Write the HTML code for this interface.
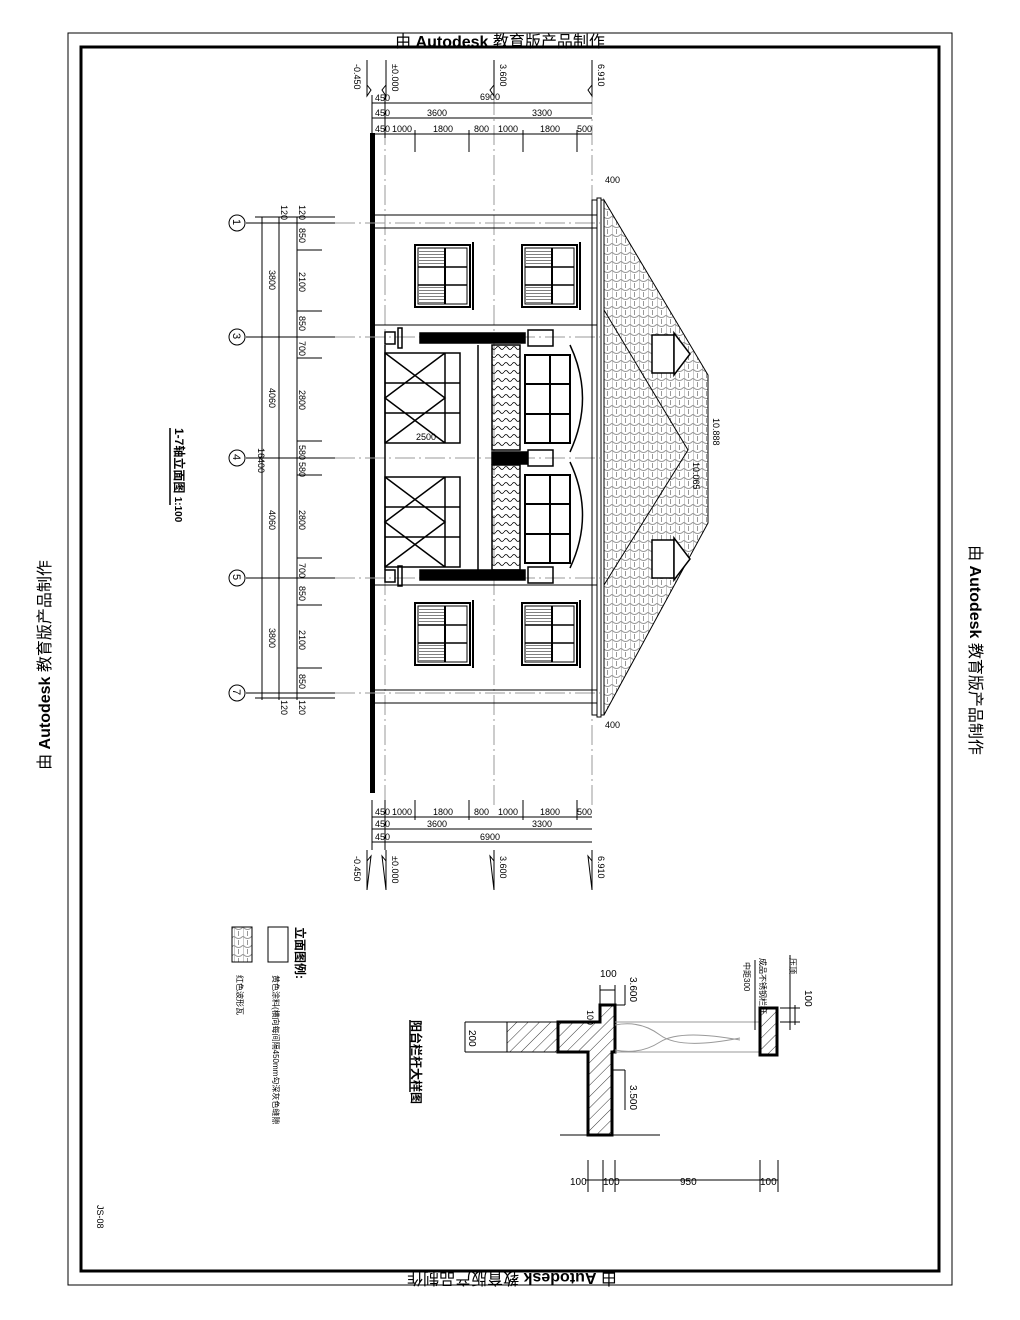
<!DOCTYPE html>
<html><head><meta charset="utf-8"><style>
html,body{margin:0;padding:0;background:#fff}
svg{display:block}
text{font-family:"Liberation Sans","Noto Sans CJK SC",sans-serif;fill:#000}
</style></head><body>
<svg width="1020" height="1320" viewBox="0 0 1020 1320" xmlns="http://www.w3.org/2000/svg">
<defs>
<pattern id="tile" width="9" height="9" patternUnits="userSpaceOnUse">
<path d="M0 0 Q4.5 5 9 0 M0 0 V9 M4.5 4 V9" fill="none" stroke="#999" stroke-width="1"/>
</pattern>
<pattern id="hatch" width="8" height="8" patternUnits="userSpaceOnUse" patternTransform="rotate(45)">
<line x1="0" y1="0" x2="0" y2="8" stroke="#000" stroke-width="0.8"/>
</pattern>
<pattern id="bal" width="8" height="8" patternUnits="userSpaceOnUse">
<path d="M0 4 Q2 1 4 4 T8 4" fill="none" stroke="#000" stroke-width="0.8"/>
</pattern>
<g id="win">
<rect x="0" y="0" width="55" height="62" fill="none" stroke="#000" stroke-width="2"/>
<rect x="3" y="3" width="49" height="56" fill="none" stroke="#000" stroke-width="1"/>
<line x1="30" y1="3" x2="30" y2="59" stroke="#000" stroke-width="2"/>
<line x1="3" y1="22" x2="52" y2="22" stroke="#000" stroke-width="1.5"/>
<line x1="3" y1="40" x2="52" y2="40" stroke="#000" stroke-width="1.5"/>
<rect x="4" y="4" width="25" height="17" fill="url(#bars)"/>
<rect x="4" y="41" width="25" height="17" fill="url(#bars)"/>
<line x1="58" y1="-3" x2="58" y2="65" stroke="#000" stroke-width="2"/>
</g>
<pattern id="bars" width="3" height="3" patternUnits="userSpaceOnUse"><line x1="0" y1="0" x2="3" y2="0" stroke="#000" stroke-width="1"/></pattern>
</defs>

<!-- borders -->
<rect x="68" y="33" width="884" height="1252" fill="none" stroke="#000" stroke-width="1"/>
<rect x="81" y="47" width="858" height="1224" fill="none" stroke="#000" stroke-width="3"/>

<!-- watermarks -->
<text x="500" y="47" font-size="16" text-anchor="middle" fill="#000">由 <tspan font-weight="bold">Autodesk</tspan> 教育版产品制作</text>
<text x="0" y="0" font-size="16" text-anchor="middle" transform="translate(512,1273) rotate(180)">由 <tspan font-weight="bold">Autodesk</tspan> 教育版产品制作</text>
<text x="0" y="0" font-size="16" text-anchor="middle" transform="translate(50,665) rotate(-90)">由 <tspan font-weight="bold">Autodesk</tspan> 教育版产品制作</text>
<text x="0" y="0" font-size="16" text-anchor="middle" transform="translate(970,650) rotate(90)">由 <tspan font-weight="bold">Autodesk</tspan> 教育版产品制作</text>

<g stroke="#000" fill="none" stroke-width="1">
<!-- ground line -->
<rect x="370" y="133" width="5" height="660" fill="#000" stroke="none"/>
<!-- grid lines vertical -->
<line x1="385" y1="95" x2="385" y2="805" stroke="#999" stroke-dasharray="20 4 2 4"/>
<line x1="494" y1="95" x2="494" y2="805" stroke="#999" stroke-dasharray="20 4 2 4"/>
<line x1="592" y1="95" x2="592" y2="805" stroke="#999" stroke-dasharray="20 4 2 4"/>
<!-- axis lines horizontal -->
<g stroke="#999" stroke-dasharray="20 4 2 4">
<line x1="335" y1="223" x2="600" y2="223"/><line x1="335" y1="337" x2="600" y2="337"/>
<line x1="335" y1="458" x2="600" y2="458"/><line x1="335" y1="578" x2="600" y2="578"/>
<line x1="335" y1="693" x2="600" y2="693"/>
</g>
<!-- top dims -->
<line x1="372" y1="103" x2="592" y2="103"/><line x1="372" y1="118" x2="592" y2="118"/><line x1="372" y1="134" x2="592" y2="134"/>
<line x1="372" y1="95" x2="372" y2="138"/><line x1="385" y1="95" x2="385" y2="138"/>
<line x1="415" y1="130" x2="415" y2="152"/><line x1="469" y1="130" x2="469" y2="152"/><line x1="523" y1="130" x2="523" y2="152"/><line x1="577" y1="130" x2="577" y2="152"/>
<!-- bottom dims -->
<line x1="372" y1="817" x2="592" y2="817"/><line x1="372" y1="829" x2="592" y2="829"/><line x1="372" y1="842" x2="592" y2="842"/>
<line x1="372" y1="800" x2="372" y2="850"/><line x1="385" y1="800" x2="385" y2="850"/>
<line x1="415" y1="800" x2="415" y2="820"/><line x1="469" y1="800" x2="469" y2="820"/><line x1="523" y1="800" x2="523" y2="820"/><line x1="577" y1="800" x2="577" y2="820"/>
<!-- elevation markers -->
<g>
<path d="M367 60 V96 L371 90 L367 85"/><path d="M386 60 V96 L382 90 L386 85"/><path d="M494 60 V96 L490 90 L494 85"/><path d="M592 60 V96 L588 90 L592 85"/>
<path d="M367 850 V890 L371 856 L367 861"/><path d="M386 850 V890 L382 856 L386 861"/><path d="M494 850 V890 L490 856 L494 861"/><path d="M592 850 V890 L588 856 L592 861"/>
</g>
<!-- left dims -->
<line x1="262" y1="217" x2="262" y2="700"/><line x1="279" y1="217" x2="279" y2="700"/><line x1="297" y1="217" x2="297" y2="700"/>
<line x1="255" y1="217" x2="335" y2="217"/><line x1="255" y1="698" x2="335" y2="698"/>
<line x1="246" y1="223" x2="335" y2="223"/><line x1="246" y1="337" x2="335" y2="337"/><line x1="246" y1="458" x2="335" y2="458"/><line x1="246" y1="578" x2="335" y2="578"/><line x1="246" y1="693" x2="335" y2="693"/>
<line x1="297" y1="250" x2="322" y2="250"/><line x1="297" y1="311" x2="322" y2="311"/><line x1="297" y1="358" x2="322" y2="358"/>
<line x1="297" y1="441" x2="322" y2="441"/><line x1="297" y1="475" x2="322" y2="475"/><line x1="297" y1="558" x2="322" y2="558"/>
<line x1="297" y1="605" x2="322" y2="605"/><line x1="297" y1="668" x2="322" y2="668"/>
<circle cx="237" cy="223" r="8"/><circle cx="237" cy="337" r="8"/><circle cx="237" cy="458" r="8"/><circle cx="237" cy="578" r="8"/><circle cx="237" cy="693" r="8"/>
<!-- facade -->
<line x1="375" y1="215" x2="597" y2="215"/><line x1="375" y1="228" x2="597" y2="228"/>
<line x1="375" y1="690" x2="597" y2="690"/><line x1="375" y1="703" x2="597" y2="703"/>
<line x1="375" y1="325" x2="597" y2="325"/><line x1="375" y1="585" x2="597" y2="585"/>
<rect x="592" y="200" width="5" height="515"/><rect x="597" y="198" width="4" height="519"/><rect x="601" y="200" width="3" height="515"/>
</g>
<!-- roof -->
<path d="M604 200 L708 375 L708 523 L604 715 Z" fill="url(#tile)" stroke="#000" stroke-width="1"/>
<path d="M604 310 L688 450 L604 585" fill="none" stroke="#000" stroke-width="1"/>
<g stroke="#000" fill="#fff" stroke-width="1.5">
<rect x="652" y="335" width="22" height="38"/><path d="M674 333 L690 354 L674 375 Z"/>
<rect x="652" y="540" width="22" height="38"/><path d="M674 538 L690 559 L674 580 Z"/>
</g>
<!-- windows -->
<use href="#win" x="415" y="245"/><use href="#win" x="522" y="245"/>
<use href="#win" x="415" y="603"/><use href="#win" x="522" y="603"/>
<g stroke="#000" fill="none" stroke-width="1.5">
<!-- balcony columns -->
<rect x="385" y="332" width="10" height="12"/><rect x="385" y="570" width="10" height="12"/>
<rect x="398" y="328" width="4" height="20"/><rect x="398" y="566" width="4" height="20"/>
<rect x="420" y="333" width="105" height="10" fill="#000"/><rect x="420" y="570" width="105" height="10" fill="#000"/>
<rect x="528" y="330" width="25" height="16"/><rect x="528" y="567" width="25" height="16"/>
<rect x="528" y="450" width="25" height="16"/>
<rect x="492" y="452" width="35" height="12" fill="#000"/>
<rect x="492" y="345" width="28" height="105" fill="url(#bal)"/><rect x="492" y="465" width="28" height="105" fill="url(#bal)"/>
<line x1="478" y1="345" x2="478" y2="570"/><line x1="385" y1="345" x2="385" y2="570"/>
<!-- glass doors -->
<g><rect x="385" y="353" width="75" height="90"/><path d="M385 353 L445 398 L385 443 M445 353 L385 398 L445 443 M385 383 H460 M385 413 H460 M445 353 V443"/></g>
<g><rect x="385" y="477" width="75" height="90"/><path d="M385 477 L445 522 L385 567 M445 477 L385 522 L445 567 M385 507 H460 M385 537 H460 M445 477 V567"/></g>
<!-- upper windows arched -->
<rect x="525" y="355" width="45" height="88" stroke-width="2"/><path d="M525 384 H570 M525 414 H570 M550 355 V443" stroke-width="2"/>
<rect x="525" y="475" width="45" height="88" stroke-width="2"/><path d="M525 504 H570 M525 534 H570 M550 475 V563" stroke-width="2"/>
<path d="M570 345 Q595 398 570 452"/><path d="M570 462 Q595 515 570 568"/>
</g>

<!-- labels -->
<g font-size="9">
<text x="375" y="101">450</text><text x="480" y="100">6900</text>
<text x="375" y="116">450</text><text x="427" y="116">3600</text><text x="532" y="116">3300</text>
<text x="375" y="132">450</text><text x="392" y="132">1000</text><text x="433" y="132">1800</text><text x="474" y="132">800</text><text x="498" y="132">1000</text><text x="540" y="132">1800</text><text x="577" y="132">500</text>
<text x="375" y="815">450</text><text x="392" y="815">1000</text><text x="433" y="815">1800</text><text x="474" y="815">800</text><text x="498" y="815">1000</text><text x="540" y="815">1800</text><text x="577" y="815">500</text>
<text x="375" y="827">450</text><text x="427" y="827">3600</text><text x="532" y="827">3300</text>
<text x="375" y="840">450</text><text x="480" y="840">6900</text>
<text x="605" y="183">400</text><text x="605" y="728">400</text>
<text x="416" y="440">2500</text>
</g>
<g font-size="9">
<text transform="translate(354,64) rotate(90)">-0.450</text><text transform="translate(392,64) rotate(90)">±0.000</text><text transform="translate(500,64) rotate(90)">3.600</text><text transform="translate(598,64) rotate(90)">6.910</text>
<text transform="translate(354,856) rotate(90)">-0.450</text><text transform="translate(392,856) rotate(90)">±0.000</text><text transform="translate(500,856) rotate(90)">3.600</text><text transform="translate(598,856) rotate(90)">6.910</text>
<text transform="translate(713,418) rotate(90)">10.888</text><text transform="translate(693,462) rotate(90)">10.065</text>
<text transform="translate(269,270) rotate(90)">3800</text><text transform="translate(269,388) rotate(90)">4060</text><text transform="translate(269,510) rotate(90)">4060</text><text transform="translate(269,628) rotate(90)">3800</text>
<text transform="translate(258,448) rotate(90)">16400</text>
<text transform="translate(299,228) rotate(90)">850</text><text transform="translate(299,272) rotate(90)">2100</text><text transform="translate(299,316) rotate(90)">850</text><text transform="translate(299,341) rotate(90)">700</text>
<text transform="translate(299,390) rotate(90)">2800</text><text transform="translate(299,445) rotate(90)">580</text><text transform="translate(299,462) rotate(90)">580</text>
<text transform="translate(299,510) rotate(90)">2800</text><text transform="translate(299,563) rotate(90)">700</text><text transform="translate(299,586) rotate(90)">850</text><text transform="translate(299,630) rotate(90)">2100</text><text transform="translate(299,674) rotate(90)">850</text>
<text transform="translate(281,205) rotate(90)">120</text><text transform="translate(299,205) rotate(90)">120</text>
<text transform="translate(281,700) rotate(90)">120</text><text transform="translate(299,700) rotate(90)">120</text>
</g>
<g font-size="11">
<text transform="translate(233,219) rotate(90)">1</text><text transform="translate(233,333) rotate(90)">3</text><text transform="translate(233,454) rotate(90)">4</text><text transform="translate(233,574) rotate(90)">5</text><text transform="translate(233,689) rotate(90)">7</text>
</g>
<text transform="translate(175,428) rotate(90)" font-size="12" font-weight="bold">1-7轴立面图 <tspan font-size="10">1:100</tspan></text>
<line x1="170" y1="428" x2="170" y2="505" stroke="#000" stroke-width="1.5"/>

<!-- balcony detail -->
<g stroke="#000" stroke-width="1">
<rect x="507" y="1022" width="51" height="30" fill="url(#hatch)"/>
<path d="M558 1022 H600 V1005 H615 V1052 H612 V1135 H588 V1052 H558 Z" fill="url(#hatch)" stroke-width="3"/>
<path d="M615 1022 H760 M615 1052 H760" stroke="#999"/>
<path d="M615 1025 Q640 1020 660 1035 T740 1038" fill="none" stroke="#999"/>
<path d="M615 1050 Q640 1055 660 1042 T740 1040" fill="none" stroke="#999"/>
<rect x="760" y="1008" width="17" height="47" fill="url(#hatch)" stroke-width="3"/>
<line x1="560" y1="1135" x2="660" y2="1135"/>
<line x1="465" y1="1022" x2="507" y2="1022"/><line x1="465" y1="1052" x2="507" y2="1052"/><line x1="465" y1="1022" x2="465" y2="1052"/>
<line x1="585" y1="1180" x2="778" y2="1180"/>
<line x1="588" y1="1160" x2="588" y2="1192"/><line x1="603" y1="1160" x2="603" y2="1192"/><line x1="615" y1="1160" x2="615" y2="1192"/><line x1="760" y1="1160" x2="760" y2="1192"/><line x1="778" y1="1160" x2="778" y2="1192"/>
<line x1="600" y1="985" x2="600" y2="1005"/><line x1="615" y1="985" x2="615" y2="1005"/>
<line x1="600" y1="990" x2="615" y2="990"/>
<line x1="780" y1="1008" x2="800" y2="1008"/><line x1="780" y1="1022" x2="800" y2="1022"/><line x1="795" y1="1005" x2="795" y2="1025"/>
<line x1="755" y1="960" x2="755" y2="1030"/><line x1="790" y1="955" x2="790" y2="1030"/>
<line x1="615" y1="1005" x2="625" y2="1005"/><line x1="625" y1="985" x2="625" y2="1005"/>
<line x1="612" y1="1070" x2="625" y2="1070"/><line x1="625" y1="1070" x2="625" y2="1110"/>
</g>
<g font-size="10">
<text x="570" y="1185">100</text><text x="603" y="1185">100</text><text x="680" y="1185">950</text><text x="760" y="1185">100</text>
<text x="600" y="977">100</text>
<text transform="translate(469,1030) rotate(90)">200</text>
<text transform="translate(630,977) rotate(90)">3.600</text>
<text transform="translate(630,1085) rotate(90)">3.500</text>
<text transform="translate(587,1010) rotate(90)" font-size="9">100</text>
<text transform="translate(805,990) rotate(90)">100</text>
</g>
<g font-size="8">
<text transform="translate(760,958) rotate(90)">成品不锈钢栏杆</text>
<text transform="translate(744,962) rotate(90)">中距300</text>
<text transform="translate(790,958) rotate(90)">压顶</text>
</g>
<text transform="translate(412,1020) rotate(90)" font-size="12" font-weight="bold">阳台栏杆大样图</text>
<line x1="410" y1="1020" x2="410" y2="1092" stroke="#000" stroke-width="1.5"/>

<!-- legend -->
<rect x="268" y="927" width="20" height="35" fill="none" stroke="#000"/>
<rect x="232" y="927" width="20" height="35" fill="url(#tile)" stroke="#000"/>
<text transform="translate(296,927) rotate(90)" font-size="12" font-weight="bold">立面图例:</text>
<text transform="translate(273,975) rotate(90)" font-size="8">黄色涂料(横向每间隔450mm勾深灰色缝隙</text>
<text transform="translate(237,975) rotate(90)" font-size="8">红色波形瓦</text>
<text transform="translate(97,1205) rotate(90)" font-size="9">JS-08</text>
</svg>
</body></html>
